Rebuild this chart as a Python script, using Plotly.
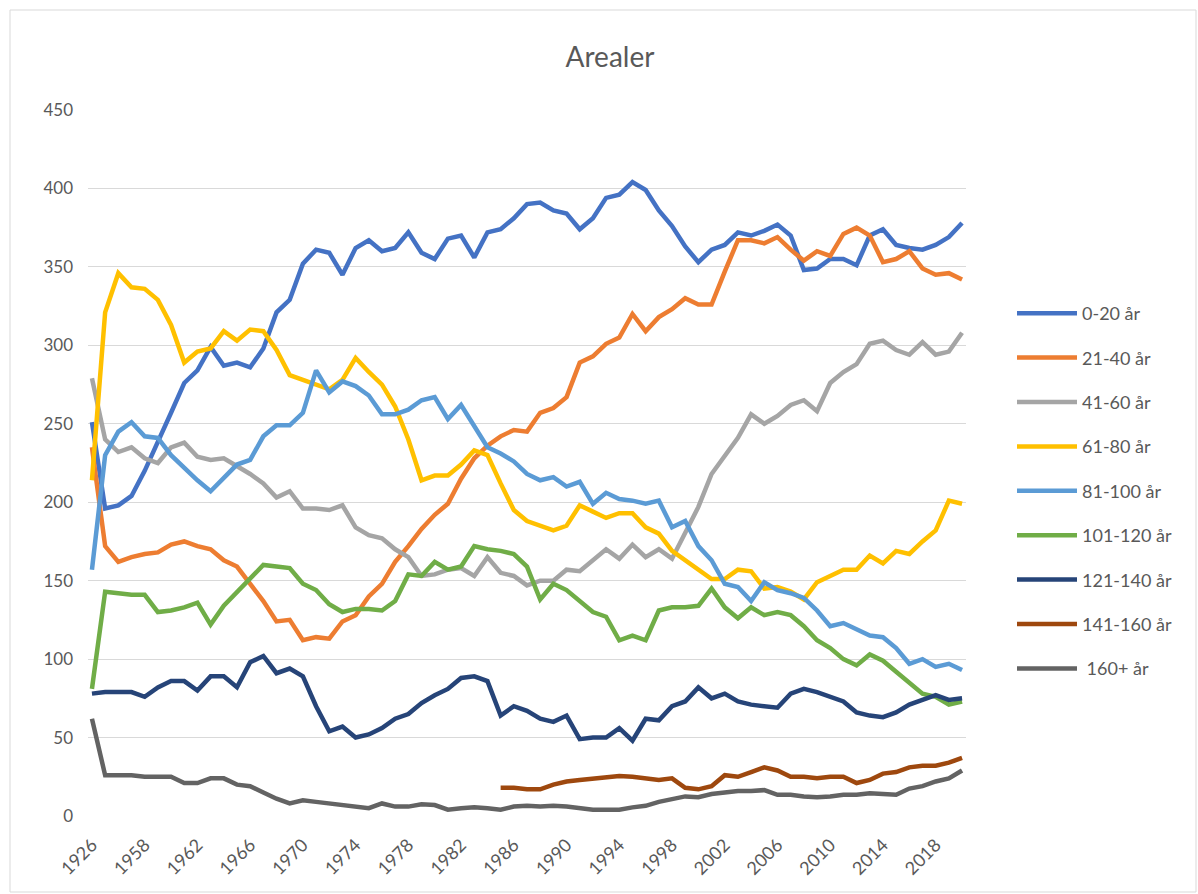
import plotly.graph_objects as go

years = ["1926"] + [str(y) for y in range(1955, 2021)]

s_0_20 = [251,196,198,204,220,238,257,276,284,299,287,289,286,298,321,329,352,361,359,345,
          362,367,360,362,372,359,355,368,370,356,372,374,381,390,391,386,384,374,381,394,
          396,404,399,386,376,363,353,361,364,372,370,373,377,370,348,349,355,355,351,370,
          374,364,362,361,364,369,378]
s_21_40 = [235,172,162,165,167,168,173,175,172,170,163,159,148,137,124,125,112,114,113,124,
           128,140,148,162,172,183,192,199,215,228,236,242,246,245,257,260,267,289,293,301,
           305,320,309,318,323,330,326,326,347,367,367,365,369,361,354,360,357,371,375,370,
           353,355,360,349,345,346,342]
s_41_60 = [279,240,232,235,228,225,235,238,229,227,228,223,218,212,203,207,196,196,195,198,
           184,179,177,170,165,153,154,157,158,153,165,155,153,147,150,150,157,156,163,170,
           164,173,165,170,164,180,197,218,230,241,256,250,255,262,265,258,276,283,288,301,
           303,297,294,302,294,296,308]
s_61_80 = [214,321,346,337,336,329,313,289,296,298,309,303,310,309,297,281,278,275,272,278,
           292,283,275,261,240,214,217,217,224,233,230,212,195,188,185,182,185,198,194,190,
           193,193,184,180,169,163,157,151,151,157,156,145,146,143,138,149,153,157,157,166,
           161,169,167,175,182,201,199]
s_81_100 = [157,230,245,251,242,241,230,222,214,207,216,224,227,242,249,249,257,284,270,277,
            274,268,256,256,259,265,267,253,262,248,235,231,226,218,214,216,210,213,199,206,
            202,201,199,201,184,188,172,163,148,146,137,149,144,142,139,131,121,123,119,115,
            114,107,97,100,95,97,93]
s_101_120 = [81,143,142,141,141,130,131,133,136,122,134,143,151,160,159,158,148,144,135,130,
             132,132,131,137,154,153,162,157,159,172,170,169,167,159,138,148,144,137,130,127,
             112,115,112,131,133,133,134,145,133,126,133,128,130,128,121,112,107,100,96,103,
             99,92,85,78,76,71,73]
s_121_140 = [78,79,79,79,76,82,86,86,80,89,89,82,98,102,91,94,89,70,54,57,
             50,52,56,62,65,72,77,81,88,89,86,64,70,67,62,60,64,49,50,50,
             56,48,62,61,70,73,82,75,78,73,71,70,69,78,81,79,76,73,66,64,
             63,66,71,74,77,74,75]
s_141_160 = [None]*31 + [18,18,17,17,20,22,23,24,25,25.5,25,24,23,24,18,17,19,26,25,28,
                          31,29,25,25,24,25,25,21,23,27,28,31,32,32,34,37]
s_160p = [62,26,26,26,25,25,25,21,21,24,24,20,19,15,11,8,10,9,8,7.5,
          6,5,8,6,6,7.5,7,4,5,5.5,5,4,6,6.5,6,6.5,6,5,4,4,
          4,5.5,6.5,9,11,12.5,12,14,15,16,16,16.5,13.5,13.5,12.5,12,12.5,13.5,13.5,14.5,
          14,13.5,17.5,19,22,24,29]

series_names = ["0-20 år", "21-40 år", "41-60 år", "61-80 år", "81-100 år",
                "101-120 år", "121-140 år", "141-160 år", " 160+ år"]
series_values = [s_0_20, s_21_40, s_41_60, s_61_80, s_81_100,
                 s_101_120, s_121_140, s_141_160, s_160p]
colors = ["#4472C4", "#ED7D31", "#A5A5A5", "#FFC000", "#5B9BD5",
          "#70AD47", "#264478", "#9E480E", "#636363"]

tick_labels = years[0::4]
y_ticks = list(range(0, 451, 50))

FONT = "Lato, 'Open Sans', sans-serif"
TXT = "#595959"

fig = go.Figure()
for i, (name, vals, col) in enumerate(zip(series_names, series_values, colors)):
    fig.add_trace(go.Scatter(
        x=years, y=vals, name=name, mode="lines",
        line=dict(color=col, width=4.5, shape="linear"),
        connectgaps=False, legendgroup=f"g{i}",
    ))

L, R, T, B = 88, 232, 110, 78
W, H = 1198, 894
pw = W - L - R
ph = H - T - B

def px_x(px):
    return (px - L) / pw

def px_y(py):
    return (H - B - py) / ph

fig.update_layout(
    width=W, height=H,
    margin=dict(l=L, r=R, t=T, b=B, pad=0),
    paper_bgcolor="white", plot_bgcolor="white",
    font=dict(family=FONT, color=TXT, size=17),
    title=dict(text="Arealer", x=610 / W, xanchor="center", y=1 - 57 / H, yanchor="middle",
               font=dict(family=FONT, size=28, color=TXT)),
    showlegend=True,
    legend=dict(x=px_x(1012), xanchor="left", y=px_y(295), yanchor="top",
                traceorder="grouped", tracegroupgap=18,
                font=dict(family=FONT, size=18, color=TXT),
                bgcolor="rgba(0,0,0,0)", itemwidth=60),
    xaxis=dict(type="category", range=[-0.3, len(years) - 0.7],
               tickmode="array", tickvals=tick_labels, ticktext=tick_labels,
               tickangle=-45, showgrid=False, zeroline=False, showline=False,
               ticks="", ticklabelstandoff=14,
               tickfont=dict(family=FONT, size=18, color=TXT)),
    yaxis=dict(range=[0, 450], tickmode="array", tickvals=y_ticks,
               showgrid=True, gridcolor="#D9D9D9", gridwidth=1.3,
               zeroline=False, showline=False, ticks="",
               ticklabelstandoff=14,
               tickfont=dict(family=FONT, size=17, color=TXT)),
    shapes=[dict(type="rect", xref="paper", yref="paper",
                 x0=px_x(10), x1=px_x(1196), y0=px_y(892), y1=px_y(10),
                 line=dict(color="#D9D9D9", width=1), fillcolor="rgba(0,0,0,0)",
                 layer="below")],
)

fig.write_html("out.html", config={"displayModeBar": False},
               post_script="document.body.style.margin='0';document.body.style.overflow='hidden';")
